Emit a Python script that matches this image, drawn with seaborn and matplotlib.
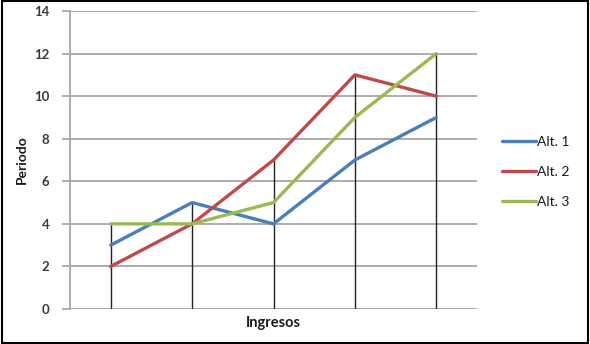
import numpy as np
import pandas as pd
import matplotlib
matplotlib.use("Agg")
import matplotlib.pyplot as plt
import seaborn as sns

# Series values per period
periods = [1, 2, 3, 4, 5]
alt1 = [3, 5, 4, 7, 9]
alt2 = [2, 4, 7, 11, 10]
alt3 = [4, 4, 5, 9, 12]
series_names = ["Alt. 1", "Alt. 2", "Alt. 3"]
colors = ["#4a7ebb", "#be4b48", "#98b954"]
y_ticks = [0, 2, 4, 6, 8, 10, 12, 14]

sns.set_theme(style="white")
plt.rcParams["font.family"] = ["Lato", "DejaVu Sans"]

df = pd.DataFrame({"Periodo": periods * 3,
                   "Valor": alt1 + alt2 + alt3,
                   "Serie": sum([[n] * len(periods) for n in series_names], [])})

fig = plt.figure(figsize=(5.9, 3.44), dpi=100)
ax = fig.add_axes([70 / 590, 1 - 309 / 344, 407 / 590, 298 / 344])

# horizontal gridlines
for t in y_ticks:
    ax.axhline(t, color="#a6a6a6", lw=1.3, zorder=0)

# drop lines from the axis up to the highest series value
highs = np.max(np.array([alt1, alt2, alt3]), axis=0)
ax.vlines(periods, 0, highs, color="#222222", lw=1.0, zorder=1)

sns.lineplot(data=df, x="Periodo", y="Valor", hue="Serie", palette=colors,
             lw=2.4, ax=ax, legend=False, zorder=3)

ax.set_xlim(0.5, 5.5)
ax.set_ylim(0, 14)
ax.set_yticks(y_ticks)
ax.set_yticklabels([str(t) for t in y_ticks], fontsize=9.5, fontweight="bold",
                   color="#3a3a3a")
ax.set_xticks([])
ax.tick_params(axis="y", length=6, width=1.3, color="#a6a6a6", pad=9, left=True)
for s in ["top", "right", "bottom"]:
    ax.spines[s].set_visible(False)
ax.spines["left"].set_color("#a6a6a6")
ax.spines["left"].set_linewidth(1.3)
ax.set_xlabel("Ingresos", fontsize=10.5, fontweight="bold", color="#1a1a1a", labelpad=5)
ax.set_ylabel("Periodo", fontsize=10, fontweight="bold", color="#1a1a1a", labelpad=4)

# legend
handles = [plt.Line2D([], [], color=c, lw=2.4) for c in colors]
fig.legend(handles, series_names, loc="center left",
           bbox_to_anchor=(496 / 590, 1 - 172 / 344), frameon=False,
           fontsize=10, handlelength=2.5, handletextpad=0.05, labelspacing=1.3,
           borderaxespad=0, labelcolor="#1a1a1a")

# outer frame
fig.patches.append(plt.Rectangle((0.003, 0.003), 0.994, 0.994, transform=fig.transFigure,
                                 fill=False, edgecolor="#000000", lw=1.5))

fig.savefig("out.png", dpi=100)
